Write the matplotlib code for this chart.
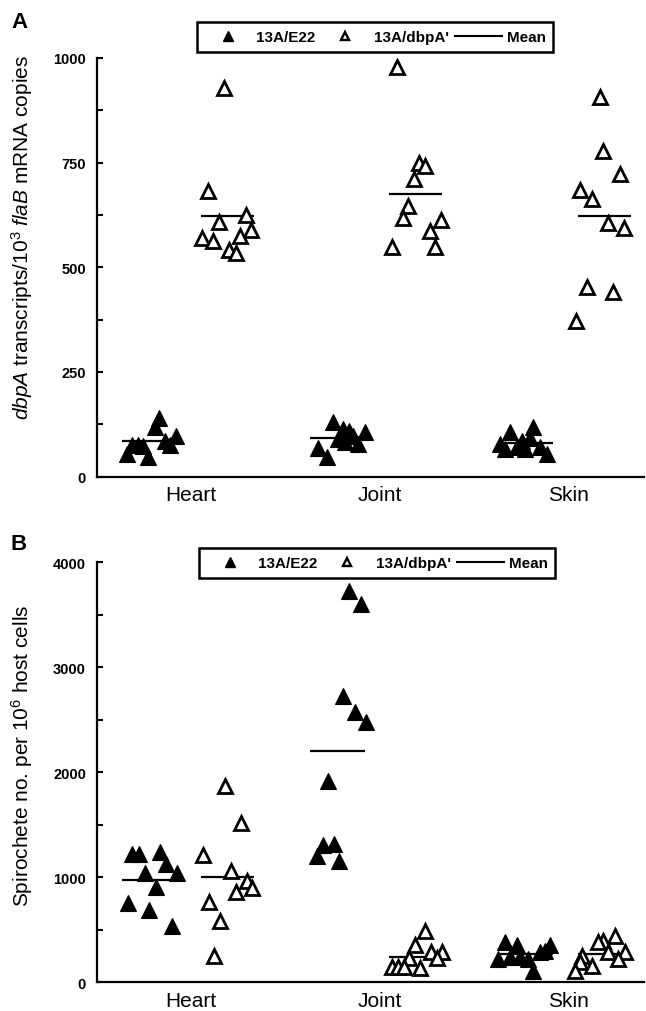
import numpy as np
import matplotlib
matplotlib.use('Agg')
import matplotlib.pyplot as plt
from matplotlib.lines import Line2D
from matplotlib.ticker import MultipleLocator

plt.rcParams['font.family'] = ['Liberation Sans', 'DejaVu Sans']
plt.rcParams['mathtext.fontset'] = 'custom'
plt.rcParams['mathtext.rm'] = 'Liberation Sans'
plt.rcParams['mathtext.it'] = 'Liberation Sans:italic'

tissues = ['Heart', 'Joint', 'Skin']
strains = ['13A/E22', "13A/dbpA'"]

# panel A: dbpA transcripts per 10^3 flaB copies (heart, joint, skin)
a_e22 = [
    [139, 118, 54, 47, 75, 75, 72, 86, 75, 96],
    [131, 67, 46, 113, 109, 90, 96, 78, 107, 82],
    [106, 118, 78, 70, 91, 66, 54, 66, 86, 70],
]
a_e22_dx = [
    [-0.171, -0.192, -0.343, -0.228, -0.316, -0.281, -0.258, -0.139, -0.113, -0.081],
    [-0.25, -0.327, -0.282, -0.194, -0.162, -0.221, -0.141, -0.115, -0.079, -0.185],
    [-0.31, -0.187, -0.363, -0.275, -0.204, -0.231, -0.116, -0.337, -0.248, -0.151],
]
a_dbp = [
    [928, 683, 607, 625, 590, 574, 569, 563, 541, 534],
    [978, 749, 741, 712, 647, 617, 613, 587, 549, 548],
    [906, 778, 723, 685, 663, 606, 593, 452, 440, 371],
]
a_dbp_dx = [
    [0.175, 0.087, 0.148, 0.29, 0.317, 0.258, 0.055, 0.117, 0.201, 0.237],
    [0.092, 0.209, 0.239, 0.182, 0.151, 0.124, 0.322, 0.266, 0.064, 0.294],
    [0.167, 0.185, 0.273, 0.061, 0.126, 0.211, 0.296, 0.097, 0.238, 0.04],
]

# panel B: spirochetes per 10^6 host cells
b_e22 = [
    [1222, 1222, 1244, 1127, 1041, 1041, 905, 752, 689, 540],
    [3730, 3603, 2730, 2577, 2482, 1920, 1308, 1317, 1200, 1158],
    [381, 355, 222, 238, 238, 111, 286, 355, 301, 222],
]
b_e22_dx = [
    [-0.316, -0.276, -0.166, -0.134, -0.245, -0.077, -0.189, -0.334, -0.223, -0.104],
    [-0.162, -0.102, -0.194, -0.132, -0.075, -0.277, -0.3, -0.243, -0.332, -0.215],
    [-0.337, -0.275, -0.372, -0.31, -0.257, -0.187, -0.151, -0.098, -0.125, -0.213],
]
b_dbp = [
    [1867, 1514, 1216, 1063, 968, 895, 857, 768, 587, 254],
    [492, 355, 229, 286, 286, 229, 143, 143, 143, 133],
    [444, 396, 381, 286, 286, 222, 254, 190, 158, 111],
]
b_dbp_dx = [
    [0.179, 0.264, 0.064, 0.209, 0.294, 0.323, 0.237, 0.094, 0.152, 0.12],
    [0.239, 0.186, 0.156, 0.269, 0.328, 0.304, 0.063, 0.098, 0.128, 0.213],
    [0.247, 0.185, 0.158, 0.3, 0.211, 0.264, 0.07, 0.061, 0.123, 0.034],
]

W, H = 646, 1012


def draw_panel(ax, e22, e22_dx, dbp, dbp_dx, ymax, major):
    for i in range(len(tissues)):
        pos = i + 1
        # mean bars sit under the markers
        ax.hlines(np.mean(e22[i]), pos - 0.37, pos - 0.08, color='black', lw=1.6, zorder=2)
        ax.hlines(np.mean(dbp[i]), pos + 0.05, pos + 0.33, color='black', lw=1.6, zorder=2)
        ax.plot(pos + np.array(e22_dx[i]), e22[i], ls='none', marker='^', ms=11,
                mfc='black', mec='black', mew=0.8, zorder=3)
        ax.plot(pos + np.array(dbp_dx[i]), dbp[i], ls='none', marker='^', ms=9.5,
                mfc='white', mec='black', mew=2.0, zorder=4)

    ax.set_xlim(0.5, 3.4)
    ax.set_ylim(0, ymax)
    ax.set_xticks(range(1, len(tissues) + 1))
    ax.set_xticklabels(tissues)
    ax.yaxis.set_major_locator(MultipleLocator(major))
    ax.yaxis.set_minor_locator(MultipleLocator(major / 2))
    for side in ['top', 'right']:
        ax.spines[side].set_visible(False)
    for side in ['left', 'bottom']:
        ax.spines[side].set_linewidth(1.6)
    ax.tick_params(axis='y', which='both', direction='in', length=4, width=1.5,
                   labelsize=10.5, pad=8)
    ax.tick_params(axis='x', length=0, labelsize=15, pad=6)
    for lab in ax.get_yticklabels():
        lab.set_fontweight('bold')


def add_legend(fig, cx, cy):
    handles = [
        Line2D([], [], ls='none', marker='^', ms=7, mfc='black', mec='black'),
        Line2D([], [], ls='none', marker='^', ms=6, mfc='white', mec='black', mew=1.7),
        Line2D([], [], color='black', lw=1.5),
    ]
    leg = fig.legend(handles, strains + ['Mean'], loc='center',
                     bbox_to_anchor=(cx / W, 1 - cy / H), ncol=3,
                     prop={'weight': 'bold', 'size': 11},
                     handlelength=3.1, handletextpad=0.3, columnspacing=0.4,
                     borderpad=0.5, frameon=True, fancybox=False,
                     edgecolor='black', framealpha=1)
    leg.get_frame().set_linewidth(1.8)


fig = plt.figure(figsize=(W / 100, H / 100), dpi=100)

ax_a = fig.add_axes([97 / W, 1 - 477.5 / H, (644 - 97) / W, (477.5 - 59) / H])
draw_panel(ax_a, a_e22, a_e22_dx, a_dbp, a_dbp_dx, 1000, 250)

ax_b = fig.add_axes([97 / W, 1 - 983.3 / H, (644 - 97) / W, (983.3 - 563.3) / H])
draw_panel(ax_b, b_e22, b_e22_dx, b_dbp, b_dbp_dx, 4000, 1000)

add_legend(fig, 375, 38)
add_legend(fig, 377, 564)

fig.text(22 / W, 1 - 55 / H, r'$\it{dbpA}$ transcripts/10$^{3}$ $\it{flaB}$ mRNA copies',
         rotation=90, ha='center', va='top', fontsize=15)
fig.text(22 / W, 1 - 605 / H, r'Spirochete no. per 10$^{6}$ host cells',
         rotation=90, ha='center', va='top', fontsize=15)

fig.text(20 / W, 1 - 22 / H, 'A', fontsize=16, fontweight='bold', ha='center', va='center')
fig.text(19 / W, 1 - 545 / H, 'B', fontsize=16, fontweight='bold', ha='center', va='center')

fig.savefig('out.png', dpi=100)
